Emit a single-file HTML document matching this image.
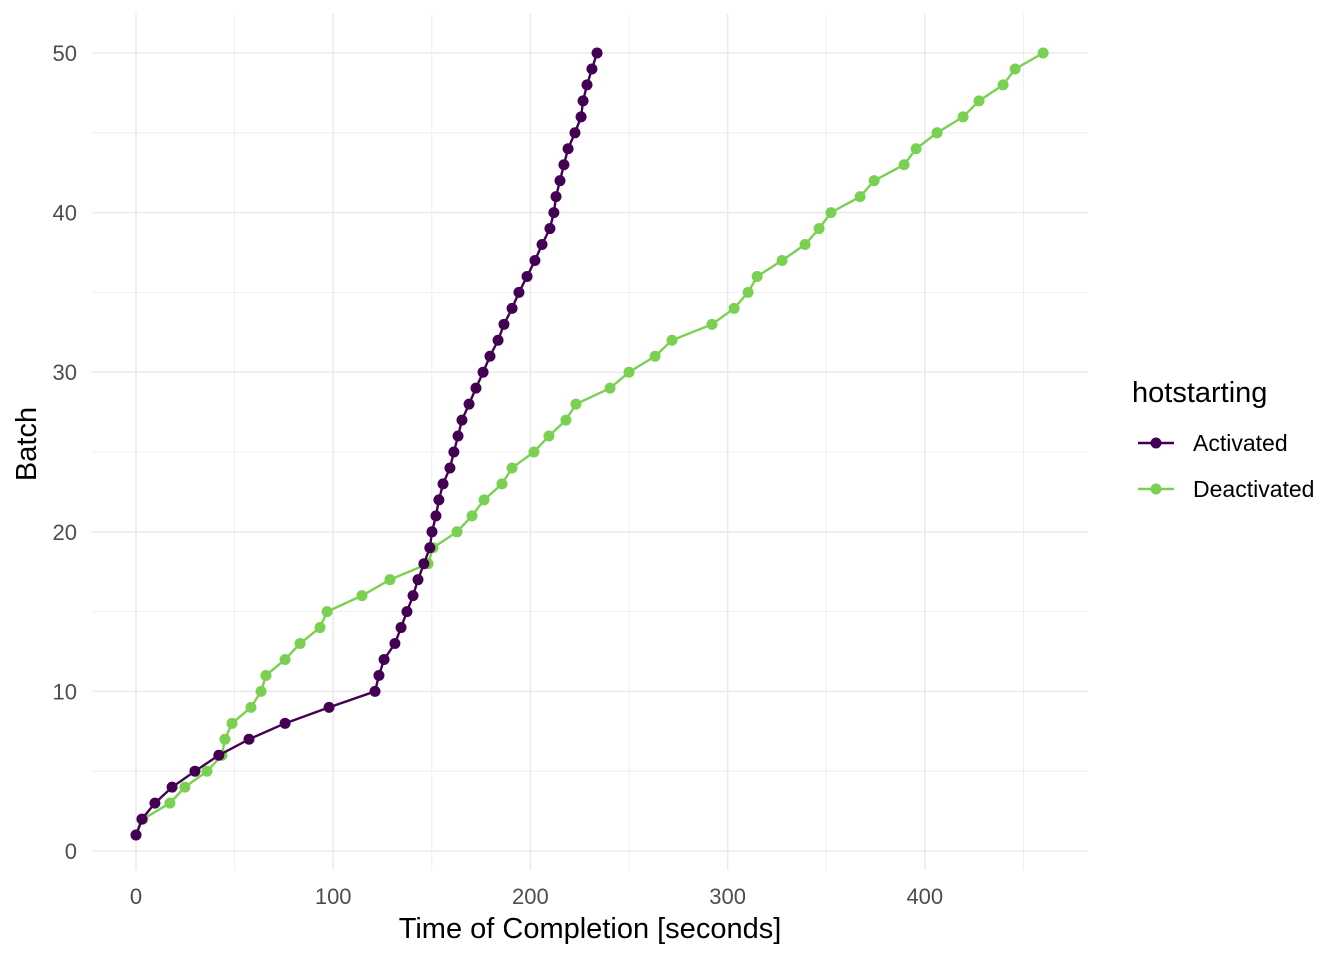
<!DOCTYPE html>
<html><head><meta charset="utf-8">
<style>
html,body{margin:0;padding:0;background:#fff;}
svg{display:block;font-family:"Liberation Sans",sans-serif;}
</style></head>
<body>
<svg id="chart" width="1344" height="960"></svg>
<script>
const xTicks=[0,100,200,300,400];
const yTicks=[0,10,20,30,40,50];
const seriesNames=["Activated","Deactivated"];
const seriesColors=["#440154","#7AD151"];
const batches=Array.from({length:50},(_,i)=>i+1);
const activatedTime=[0,3,9.6,18.3,29.9,42,57.3,75.6,97.9,121.2,123.2,125.8,131.3,134.4,137.4,140.5,143,146,149,150.1,152.1,153.6,155.7,159.2,161.2,163.3,165.3,168.9,172.4,176,179.5,183.6,186.6,190.7,194.2,198.3,202.3,205.9,209.9,211.9,213,215,217,219.1,222.6,225.7,226.7,228.7,231.2,233.8];
const deactivatedTime=[0,3.5,17.2,24.8,36,43.6,45.1,48.7,58.3,63.4,65.9,75.6,83.2,93.3,96.9,114.6,128.8,148.1,150.6,162.8,170.4,176.5,185.6,190.7,201.8,209.4,218,223.1,240.4,250,263.2,271.8,292.1,303.3,310.4,315,327.6,339.3,346.4,352.4,367.2,374.3,389.5,395.6,406.2,419.4,427.5,439.7,445.8,460];

const NS="http://www.w3.org/2000/svg";
const svg=document.getElementById('chart');
const xs=v=>136+v*1.972;
const ys=v=>851-v*15.96;
const L=92,R=1088,T=14,B=870;
function mk(tag,attrs,parent){const e=document.createElementNS(NS,tag);for(const k in attrs)e.setAttribute(k,attrs[k]);(parent||svg).appendChild(e);return e;}

const grid=mk('g',{});


for(let v=-50;v<=500;v+=50){const x=xs(v);if(x<L||x>R)continue;mk('line',{x1:x,x2:x,y1:T,y2:B,stroke:'#ebebeb','stroke-width':v%100===0?1.6:0.8},grid);}
for(let v=-5;v<=55;v+=5){const y=ys(v);if(y<T||y>B)continue;mk('line',{x1:L,x2:R,y1:y,y2:y,stroke:'#ebebeb','stroke-width':v%10===0?1.6:0.8},grid);}

xTicks.forEach(v=>{const t=mk('text',{x:xs(v),y:904,'text-anchor':'middle','font-size':22,fill:'#4d4d4d'});t.textContent=v;

});
yTicks.forEach(v=>{const t=mk('text',{x:77,y:ys(v)+8,'text-anchor':'end','font-size':22,fill:'#4d4d4d'});t.textContent=v;

});

const xt=mk('text',{x:590,y:938,'text-anchor':'middle','font-size':29,fill:'#000'});xt.textContent='Time of Completion [seconds]';


const yt=mk('text',{x:36,y:444,'text-anchor':'middle','font-size':29,fill:'#000',transform:'rotate(-90 36 444)'});yt.textContent='Batch';



function series(times,color,name){
  const g=mk('g',{});
  
  
  const d=times.map((t,i)=>(i?'L':'M')+xs(t)+','+ys(batches[i])).join(' ');
  mk('path',{d:d,fill:'none',stroke:color,'stroke-width':2.4},g);
  times.forEach((t,i)=>{const c=mk('circle',{cx:xs(t),cy:ys(batches[i]),r:5.5,fill:color},g);
    
    });
}
series(deactivatedTime,seriesColors[1],'deactivated');
series(activatedTime,seriesColors[0],'activated');

const lg=mk('g',{});


const lt=mk('text',{x:1132,y:402,'font-size':29,fill:'#000'},lg);lt.textContent='hotstarting';
seriesNames.forEach((n,i)=>{
  const y=443+i*46;
  const e=mk('g',{},lg);
  
  
  mk('line',{x1:1138,x2:1174,y1:y,y2:y,stroke:seriesColors[i],'stroke-width':2.4},e);
  mk('circle',{cx:1156,cy:y,r:5.5,fill:seriesColors[i]},e);
  const t=mk('text',{x:1193,y:y+8,'font-size':23,fill:'#000'},e);t.textContent=n;
});
</script>
</body></html>
